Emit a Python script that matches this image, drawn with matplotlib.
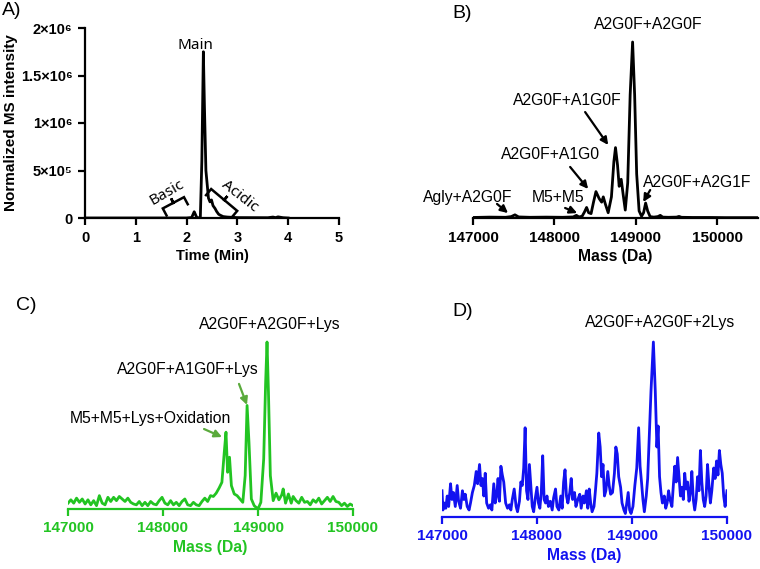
import numpy as np
import matplotlib
matplotlib.use("Agg")
import matplotlib.pyplot as plt

plt.rcParams['font.family'] = ['Liberation Sans', 'DejaVu Sans']

# ---- data ----
# A) chromatogram
time_a = [0.0, 1.0, 2.0, 2.10, 2.15, 2.20, 2.27, 2.30, 2.33, 2.35, 2.38, 2.43, 2.46, 2.49,
          2.52, 2.56, 2.59, 2.63, 2.66, 2.72, 2.80, 3.0, 3.6, 3.7, 3.75, 3.8, 3.9, 4.0]
inten_a = [0, 0, 0, 0.005e6, 0.066e6, 0.005e6, 0, 0.6e6, 1.75e6, 1.2e6, 0.5e6, 0.21e6, 0.17e6, 0.19e6,
           0.13e6, 0.10e6, 0.07e6, 0.04e6, 0.03e6, 0.015e6, 0.01e6, 0.004e6, 0.003e6, 0.01e6,
           0.004e6, 0.012e6, 0.003e6, 0.0]
yticks_a = [0, 5e5, 1e6, 1.5e6, 2e6]
yticklabels_a = ['0', '5×10⁵', '1×10⁶', '1.5×10⁶', '2×10⁶']

# B) deconvoluted mass spectrum (main peak = 100)
mass_b = [147000, 147200, 147400, 147470, 147515, 147560, 147700, 147900, 148100, 148230,
          148270, 148300, 148340, 148370, 148395, 148420, 148450, 148480, 148510, 148550,
          148580, 148600, 148625, 148660, 148700, 148730, 148750, 148775, 148795, 148820,
          148845, 148870, 148900, 148930, 148960, 148985, 149010, 149040, 149070, 149095,
          149120, 149145, 149175, 149220, 149270, 149300, 149330, 149400, 149500, 149530,
          149560, 149700, 149900, 150100, 150300, 150500]
inten_b = [0.3, 0.5, 0.4, 0.8, 1.8, 0.6, 0.4, 0.5, 0.4, 0.6,
           1.5, 0.6, 1.0, 3.5, 6.0, 3.0, 2.5, 9.0, 15.0, 11.0,
           9.0, 12.0, 8.0, 3.0, 12.0, 32.0, 40.0, 30.0, 18.0, 22.0,
           13.0, 4.5, 20.0, 70.0, 100.0, 70.0, 25.0, 4.0, 1.0, 3.0,
           8.5, 4.0, 0.8, 0.5, 0.8, 1.5, 0.5, 0.4, 0.5, 0.9,
           0.4, 0.3, 0.3, 0.2, 0.2, 0.2]

# C) +Lys species
mass_c = [147000, 147030, 147060, 147090, 147120, 147150, 147180, 147210, 147240, 147270,
          147300, 147330, 147360, 147390, 147420, 147450, 147480, 147510, 147540, 147570,
          147600, 147630, 147660, 147690, 147720, 147750, 147780, 147810, 147840, 147870,
          147900, 147930, 147960, 147990, 148020, 148050, 148080, 148110, 148140, 148170,
          148200, 148230, 148260, 148290, 148320, 148350, 148380, 148410, 148440, 148470,
          148500, 148530, 148560, 148590, 148620, 148645, 148663, 148680, 148700, 148720,
          148750, 148780, 148810, 148840, 148865, 148885, 148905, 148930, 148960, 148990,
          149000, 149030, 149060, 149080, 149095, 149110, 149130, 149160, 149190, 149220,
          149250, 149265, 149290, 149320, 149350, 149370, 149400, 149430, 149460, 149490,
          149520, 149550, 149580, 149610, 149640, 149670, 149700, 149730, 149760, 149790,
          149820, 149850, 149880, 149910, 149940, 149970, 150000]
inten_c = [3.5, 5.5, 3.5, 6.5, 4.0, 6.0, 3.0, 5.5, 2.5, 5.0,
           2.0, 8.0, 3.5, 2.5, 7.0, 4.5, 7.0, 5.0, 7.5, 6.0,
           4.5, 6.5, 4.0, 3.0, 2.5, 4.5, 2.0, 4.0, 2.0, 4.5,
           3.0, 2.5, 5.0, 7.0, 3.5, 2.5, 5.0, 2.5, 4.0, 2.0,
           4.5, 6.0, 2.5, 2.0, 4.0, 2.5, 2.0, 4.5, 6.5, 4.5,
           8.0, 7.5, 9.5, 12.5, 16.0, 34.0, 46.0, 22.0, 31.0, 14.0,
           9.0, 8.0, 6.0, 4.0, 20.0, 62.0, 40.0, 6.0, 2.0, 0.5,
           0.0, 4.0, 30.0, 75.0, 100.0, 70.0, 20.0, 5.0, 9.5, 5.5,
           8.5, 12.0, 3.5, 9.0, 3.5, 7.5, 5.0, 3.5, 7.0, 4.0,
           4.5, 2.5, 5.5, 4.0, 6.5, 3.0, 5.0, 7.0, 4.5, 7.5,
           4.5, 4.0, 2.0, 3.5, 1.5, 3.0, 2.0]

# D) +2Lys species
mass_d = [147000, 147010, 147025, 147040, 147055, 147070, 147090, 147105, 147120, 147140,
          147160, 147175, 147195, 147215, 147230, 147245, 147265, 147285, 147300, 147320,
          147340, 147360, 147375, 147395, 147410, 147425, 147440, 147455, 147470, 147490,
          147510, 147525, 147545, 147560, 147575, 147590, 147605, 147620, 147635, 147650,
          147670, 147690, 147710, 147725, 147740, 147760, 147780, 147795, 147815, 147830,
          147845, 147860, 147875, 147890, 147905, 147920, 147935, 147950, 147965, 147980,
          148000, 148015, 148030, 148045, 148060, 148075, 148090, 148105, 148120, 148140,
          148160, 148175, 148195, 148210, 148230, 148250, 148265, 148280, 148295, 148310,
          148325, 148345, 148360, 148375, 148395, 148410, 148430, 148450, 148465, 148485,
          148500, 148520, 148535, 148550, 148565, 148580, 148600, 148615, 148630, 148650,
          148665, 148680, 148695, 148710, 148725, 148745, 148760, 148775, 148795, 148815,
          148830, 148845, 148860, 148880, 148895, 148915, 148930, 148945, 148960, 148975,
          148990, 149010, 149030, 149050, 149070, 149085, 149100, 149115, 149130, 149150,
          149165, 149180, 149200, 149225, 149245, 149262, 149275, 149290, 149305, 149320,
          149340, 149355, 149370, 149385, 149400, 149420, 149435, 149450, 149465, 149480,
          149495, 149510, 149525, 149540, 149555, 149570, 149585, 149600, 149615, 149630,
          149645, 149660, 149675, 149690, 149705, 149720, 149735, 149750, 149765, 149780,
          149795, 149810, 149825, 149840, 149860, 149875, 149890, 149905, 149920, 149935,
          149950, 149965, 149980, 150000]
inten_d = [15, 4, 8, 5, 12, 6, 19, 10, 14, 6,
           18, 9, 5, 15, 10, 13, 6, 4, 8, 14,
           18, 26, 19, 30, 18, 22, 12, 25, 8, 5,
           7, 4, 19, 8, 12, 22, 9, 29, 24, 20,
           8, 5, 7, 4, 10, 16, 6, 3, 9, 20,
           18, 28, 51, 15, 10, 30, 18, 6, 3, 10,
           17, 8, 5, 14, 35, 10, 8, 12, 6, 9,
           4, 11, 16, 6, 4, 12, 5, 20, 27, 12,
           8, 14, 22, 10, 14, 6, 10, 13, 5, 12,
           8, 15, 5, 16, 8, 3, 6, 15, 25, 48,
           40, 23, 30, 12, 15, 26, 18, 13, 14, 25,
           40, 36, 23, 17, 8, 4, 2, 8, 14, 4,
           2, 6, 18, 28, 51, 29, 20, 10, 3, 12,
           22, 43, 72, 100, 72, 40, 52, 23, 14, 8,
           12, 5, 8, 15, 10, 6, 18, 29, 20, 34,
           23, 12, 17, 10, 25, 16, 20, 9, 14, 26,
           10, 4, 10, 23, 15, 38, 20, 10, 6, 12,
           30, 18, 8, 15, 28, 22, 32, 24, 38, 30,
           25, 12, 6, 15]

mass_ticks = [147000, 148000, 149000, 150000]

green = '#22c422'
green_arrow = '#5aaa3c'
blue = '#1212f0'
label_font = 11.3
tick_font = 11
note_font = 11.3

fig = plt.figure(figsize=(7.6, 5.69), dpi=100)

ax_a = fig.add_axes([85 / 760, 1 - 218 / 569, 254 / 760, 190 / 569])
ax_b = fig.add_axes([473 / 760, 1 - 218 / 569, 285 / 760, 176 * 1.05 / 569])
ax_c = fig.add_axes([68 / 760, 1 - 509 / 569, 285 / 760, 167 * 1.05 / 569])
ax_d = fig.add_axes([442 / 760, 1 - 517 / 569, 285 / 760, 175 * 1.05 / 569])


def style_axis(ax, color, show_left=False, size=tick_font):
    ax.spines['top'].set_visible(False)
    ax.spines['right'].set_visible(False)
    ax.spines['left'].set_visible(show_left)
    for sp in ['left', 'bottom']:
        ax.spines[sp].set_linewidth(1.6)
        ax.spines[sp].set_color(color)
    ax.tick_params(axis='both', direction='out', length=5, width=1.6, colors=color,
                   labelsize=size, pad=4)
    for lab in ax.get_xticklabels() + ax.get_yticklabels():
        lab.set_fontweight('bold')
    if not show_left:
        ax.set_yticks([])


def bracket(ax, cx, cy, length, leg, tick, angle):
    # square bracket drawn in pixel space around a data anchor
    base = ax.transData.transform((cx, cy))
    a = np.deg2rad(angle)
    u = np.array([np.cos(a), np.sin(a)])
    n = np.array([-np.sin(a), np.cos(a)])
    pts = [-u * length / 2 - n * leg, -u * length / 2, np.zeros(2), n * tick, np.zeros(2),
           u * length / 2, u * length / 2 - n * leg]
    pts = np.array([base + p for p in pts])
    ax.plot(pts[:, 0], pts[:, 1], color='k', lw=1.8, transform=None, clip_on=False,
            solid_joinstyle='miter')


def arrow(ax, tail, head, color='k'):
    ax.annotate('', xy=head, xytext=tail, annotation_clip=False,
                arrowprops=dict(arrowstyle='-|>', color=color, lw=1.6, mutation_scale=11,
                                shrinkA=0, shrinkB=0))


# ---- A ----
ax_a.plot(time_a, inten_a, color='k', lw=2.0)
ax_a.set_xlim(0, 5)
ax_a.set_ylim(0, 2e6)
ax_a.set_xticks([0, 1, 2, 3, 4, 5])
ax_a.set_yticks(yticks_a)
ax_a.set_yticklabels(yticklabels_a)
style_axis(ax_a, 'k', show_left=True, size=10.5)
ax_a.set_xlabel('Time (Min)', fontsize=10.5, fontweight='bold', labelpad=3)
ax_a.set_ylabel('Normalized MS intensity', fontsize=11, fontweight='bold', labelpad=2)
ax_a.text(2.17, 1.82e6, 'Main', ha='center', va='center', fontsize=11, family='Noto Sans')
ax_a.text(1.61, 0.27e6, 'Basic', ha='center', va='center', fontsize=11, rotation=30,
          family='Noto Sans')
ax_a.text(3.05, 0.23e6, 'Acidic', ha='center', va='center', fontsize=11, rotation=-38,
          family='Noto Sans')
fig.canvas.draw()
bracket(ax_a, 1.74, 0.16e6, 24, 8, 5, 28)
bracket(ax_a, 2.74, 0.19e6, 34, 8, 5, -40)

# ---- B ----
ax_b.plot(mass_b, inten_b, color='k', lw=2.0)
ax_b.set_xlim(147000, 150500)
ax_b.set_ylim(0, 105)
ax_b.set_xticks(mass_ticks)
style_axis(ax_b, 'k')
ax_b.set_xlabel('Mass (Da)', fontsize=label_font, fontweight='bold', labelpad=3)
ax_b.text(149152, 109.7, 'A2G0F+A2G0F', ha='center', va='center', fontsize=note_font)
ax_b.text(148156, 67, 'A2G0F+A1G0F', ha='center', va='center', fontsize=note_font)
ax_b.text(147947, 35.8, 'A2G0F+A1G0', ha='center', va='center', fontsize=note_font)
ax_b.text(146938, 11.9, 'Agly+A2G0F', ha='center', va='center', fontsize=note_font)
ax_b.text(148045, 11.9, 'M5+M5', ha='center', va='center', fontsize=note_font)
ax_b.text(149754, 19.9, 'A2G0F+A2G1F', ha='center', va='center', fontsize=note_font)
arrow(ax_b, (148377, 60.2), (148660, 41.5))
arrow(ax_b, (148193, 29), (148414, 16.5))
arrow(ax_b, (147295, 8), (147430, 2.8))
arrow(ax_b, (148131, 5.7), (148279, 2.8))
arrow(ax_b, (149176, 15.9), (149090, 9.1))

# ---- C ----
ax_c.plot(mass_c, inten_c, color=green, lw=2.0)
ax_c.set_xlim(147000, 150000)
ax_c.set_ylim(0, 105)
ax_c.set_xticks(mass_ticks)
style_axis(ax_c, green)
ax_c.set_xlabel('Mass (Da)', fontsize=label_font, fontweight='bold', color=green, labelpad=3)
ax_c.text(149126, 110.2, 'A2G0F+A2G0F+Lys', ha='center', va='center', fontsize=note_font)
ax_c.text(148258, 83.3, 'A2G0F+A1G0F+Lys', ha='center', va='center', fontsize=note_font)
ax_c.text(147863, 53.9, 'M5+M5+Lys+Oxidation', ha='center', va='center', fontsize=note_font)
arrow(ax_c, (148800, 74.9), (148884, 62.3), green_arrow)
arrow(ax_c, (148432, 47.9), (148621, 43.1), green_arrow)

# ---- D ----
ax_d.plot(mass_d, inten_d, color=blue, lw=2.0)
ax_d.set_xlim(147000, 150000)
ax_d.set_ylim(0, 105)
ax_d.set_xticks(mass_ticks)
style_axis(ax_d, blue)
ax_d.set_xlabel('Mass (Da)', fontsize=label_font, fontweight='bold', color=blue, labelpad=3)
ax_d.text(149295, 110.9, 'A2G0F+A2G0F+2Lys', ha='center', va='center', fontsize=note_font)

# panel letters
fig.text(2 / 760, 1 - 2 / 569, 'A)', fontsize=14, ha='left', va='top')
fig.text(452 / 760, 1 - 5 / 569, 'B)', fontsize=14, ha='left', va='top')
fig.text(16 / 760, 1 - 297 / 569, 'C)', fontsize=14, ha='left', va='top')
fig.text(452 / 760, 1 - 303 / 569, 'D)', fontsize=14, ha='left', va='top')

fig.savefig('out.png', dpi=100)
